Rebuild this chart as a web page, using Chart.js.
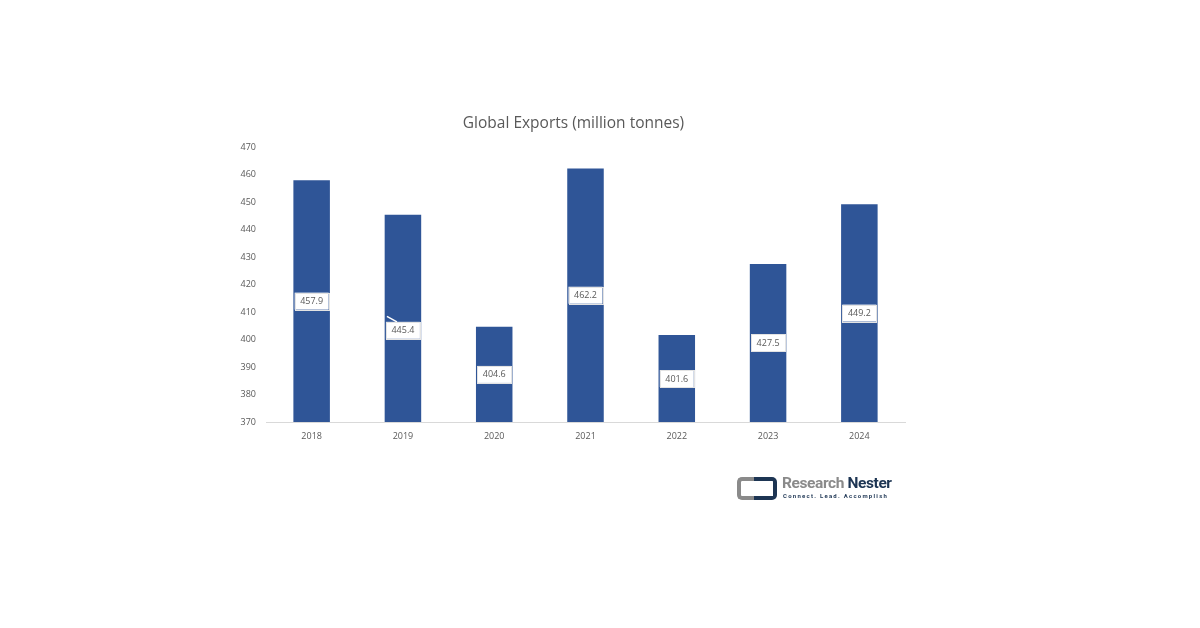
<!DOCTYPE html>
<html>
<head>
<meta charset="utf-8">
<script src="https://cdn.jsdelivr.net/npm/chart.js@4"></script>
<style>
  body { margin: 0; background: #fff; }
  #wrap { position: relative; width: 1200px; height: 628px; }
  #logo { position: absolute; left: 737px; top: 473px; width: 170px; height: 30px; font-family: "Roboto", "Liberation Sans", sans-serif; }
  #logo .icon1 { position: absolute; left: 0; top: 4px; width: 20px; height: 15px; border: 4px solid #8a8a8a; border-right: none; border-radius: 5px 0 0 5px; }
  #logo .icon2 { position: absolute; left: 17px; top: 4px; width: 19px; height: 15px; border: 4px solid #1d3553; border-left: none; border-radius: 0 5px 5px 0; }
  #logo .name { position: absolute; left: 45px; top: 1px; font-size: 15.5px; font-weight: bold; letter-spacing: -0.4px; white-space: nowrap; }
  #logo .name .a { color: #8a8a8a; }
  #logo .name .b { color: #1d3553; }
  #logo .tag { position: absolute; left: 46px; top: 19px; font-size: 6px; font-weight: bold; color: #1d3553; letter-spacing: 1.25px; white-space: nowrap; }
</style>
</head>
<body>
<div id="wrap">
  <canvas id="diagram" width="1200" height="628"></canvas>
  <div id="logo">
    <div class="icon1"></div><div class="icon2"></div>
    <div class="name"><span class="a">Research</span> <span class="b">Nester</span></div>
    <div class="tag">Connect. Lead. Accomplish</div>
  </div>
</div>
<script>
// Data
const chartTitle = 'Global Exports (million tonnes)';
const years = ['2018', '2019', '2020', '2021', '2022', '2023', '2024'];
const exportsMt = [457.9, 445.4, 404.6, 462.2, 401.6, 427.5, 449.2];
const yTicks = [370, 380, 390, 400, 410, 420, 430, 440, 450, 460, 470];

// the 2019 label sits a bit lower in the original
const labelNudge = [0, 12, 0, 0, 0, 0, 0];

// Title, drawn a little left of the plot centre like the original
const titlePlugin = {
    id: 'titlePlugin',
    afterDraw(chart) {
        const ctx = chart.ctx;
        const area = chart.chartArea;
        ctx.save();
        ctx.font = '15.5px "Open Sans", sans-serif';
        ctx.fillStyle = '#595959';
        ctx.textAlign = 'center';
        ctx.textBaseline = 'middle';
        ctx.fillText(chartTitle, (area.left + area.right) / 2 - 12, area.top - 23);
        ctx.restore();
    }
};

// Value boxes in the middle of the visible part of each bar
const boxLabels = {
    id: 'boxLabels',
    afterDatasetsDraw(chart) {
        const ctx = chart.ctx;
        const meta = chart.getDatasetMeta(0);
        const bottom = chart.chartArea.bottom;
        ctx.save();
        ctx.font = '9px "Open Sans", sans-serif';
        ctx.textAlign = 'center';
        ctx.textBaseline = 'middle';
        meta.data.forEach((bar, i) => {
            const nudge = labelNudge[i];
            const x = bar.x;
            const y = (bar.y + Math.min(bar.base, bottom)) / 2 + nudge;
            const w = 34, h = 17;
            if (nudge) {
                // small leader line like the original
                ctx.strokeStyle = '#ffffff';
                ctx.lineWidth = 1.5;
                ctx.beginPath();
                ctx.moveTo(x - w / 2 + 1, y - nudge - 2);
                ctx.lineTo(x - 6, y - h / 2);
                ctx.stroke();
            }
            ctx.fillStyle = '#ffffff';
            ctx.fillRect(x - w / 2, y - h / 2, w, h);
            ctx.strokeStyle = '#e3e3e3';
            ctx.lineWidth = 1;
            ctx.strokeRect(Math.round(x - w / 2) + 0.5, Math.round(y - h / 2) + 0.5, w, h);
            ctx.fillStyle = '#595959';
            ctx.fillText(exportsMt[i].toFixed(1), x, y + 0.5);
        });
        ctx.restore();
    }
};

function createChart() {
    const ctx = document.getElementById('diagram').getContext('2d');

    new Chart(ctx, {
        type: 'bar',
        data: {
            labels: years,
            datasets: [
                {
                    label: chartTitle,
                    data: exportsMt,
                    backgroundColor: '#2f5597',
                    borderWidth: 0,
                    barPercentage: 0.4,
                    categoryPercentage: 1
                }
            ]
        },
        options: {
            responsive: false,
            animation: false,
            layout: {
                padding: { left: 0, right: 295, top: 147, bottom: 0 }
            },
            plugins: {
                legend: { display: false },
                tooltip: { enabled: false },
                title: { display: false }
            },
            scales: {
                x: {
                    grid: { display: false, drawTicks: false },
                    border: { display: true, color: '#d9d9d9' },
                    ticks: {
                        color: '#595959',
                        padding: 9,
                        font: { family: '"Open Sans", sans-serif', size: 9 }
                    },
                    afterFit(scale) { scale.height = 206; }
                },
                y: {
                    min: 370,
                    max: 470,
                    grid: { display: false, drawTicks: false },
                    border: { display: false },
                    afterBuildTicks(scale) {
                        scale.ticks = yTicks.map(v => ({ value: v }));
                    },
                    ticks: {
                        color: '#595959',
                        padding: 10,
                        font: { family: '"Open Sans", sans-serif', size: 9 }
                    },
                    afterFit(scale) { scale.width = 266; }
                }
            }
        },
        plugins: [boxLabels, titlePlugin]
    });
}

createChart();
</script>
</body>
</html>
